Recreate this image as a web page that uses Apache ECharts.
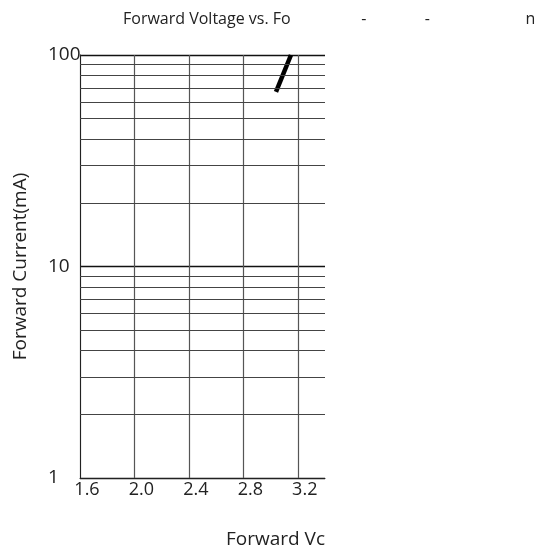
<!DOCTYPE html>
<html>
<head>
<meta charset="utf-8">
<script src="https://cdn.jsdelivr.net/npm/echarts@6/dist/echarts.min.js"></script>
<style>html,body{margin:0;padding:0;background:#fff}#c{width:553px;height:548px}</style>
</head>
<body>
<div id="c"></div>
<script>
var titleText = 'Forward Voltage vs. Fo                 -              -                       n';
var xName = 'Forward Vc';
var yName = 'Forward Current(mA)';
var voltage = [3.04, 3.15];
var current = [67, 100];
var minorGrid = [2, 3, 4, 5, 6, 7, 8, 9, 20, 30, 40, 50, 60, 70, 80, 90];

var font = 'Open Sans';
var chart = echarts.init(document.getElementById('c'), null, {renderer: 'canvas'});
chart.setOption({
  animation: false,
  backgroundColor: '#fff',
  title: {
    text: titleText, left: 118, top: 6,
    textStyle: {fontFamily: font, fontSize: 16, fontWeight: 'normal', color: '#222'}
  },
  grid: {left: 80, right: 228, top: 55, bottom: 70, containLabel: false, outerBoundsMode: 'none'},
  xAxis: {
    type: 'value', min: 1.6, max: 3.4, interval: 0.4,
    name: xName, nameLocation: 'end', nameGap: 0,
    nameTextStyle: {fontFamily: font, fontSize: 19, color: '#222', align: 'right', verticalAlign: 'top', padding: [52, 0, 0, 0]},
    axisLine: {show: true, lineStyle: {color: '#222', width: 1}},
    axisTick: {show: false},
    axisLabel: {
      fontFamily: font, fontSize: 18, color: '#222', margin: 3, showMaxLabel: false,
      padding: [0, 0, 0, 14],
      formatter: function (v) { return v.toFixed(1); }
    },
    splitLine: {show: true, showMaxLine: false, lineStyle: {color: '#555', width: 1.2}}
  },
  yAxis: {
    type: 'log', logBase: 10, min: 1, max: 100,
    name: yName, nameLocation: 'middle', nameGap: 50, nameRotate: 90,
    nameTextStyle: {fontFamily: font, fontSize: 19, color: '#222'},
    axisLine: {show: true, lineStyle: {color: '#222', width: 1}},
    axisTick: {show: false},
    axisLabel: {fontFamily: font, fontSize: 19, color: '#222', align: 'left', margin: 32},
    splitLine: {show: true, lineStyle: {color: '#111', width: 1.3}},
    minorTick: {show: false},
    minorSplitLine: {show: false}
  },
  series: [{
    type: 'line',
    data: voltage.map(function (v, i) { return [v, current[i]]; }),
    showSymbol: false, symbol: 'none',
    lineStyle: {color: '#000', width: 4.5, cap: 'butt'},
    markLine: {
      silent: true, symbol: 'none', label: {show: false},
      lineStyle: {color: '#444', width: 1, type: 'solid'},
      data: minorGrid.map(function (v) { return {yAxis: v}; })
    }
  }]
});
</script>
</body>
</html>
